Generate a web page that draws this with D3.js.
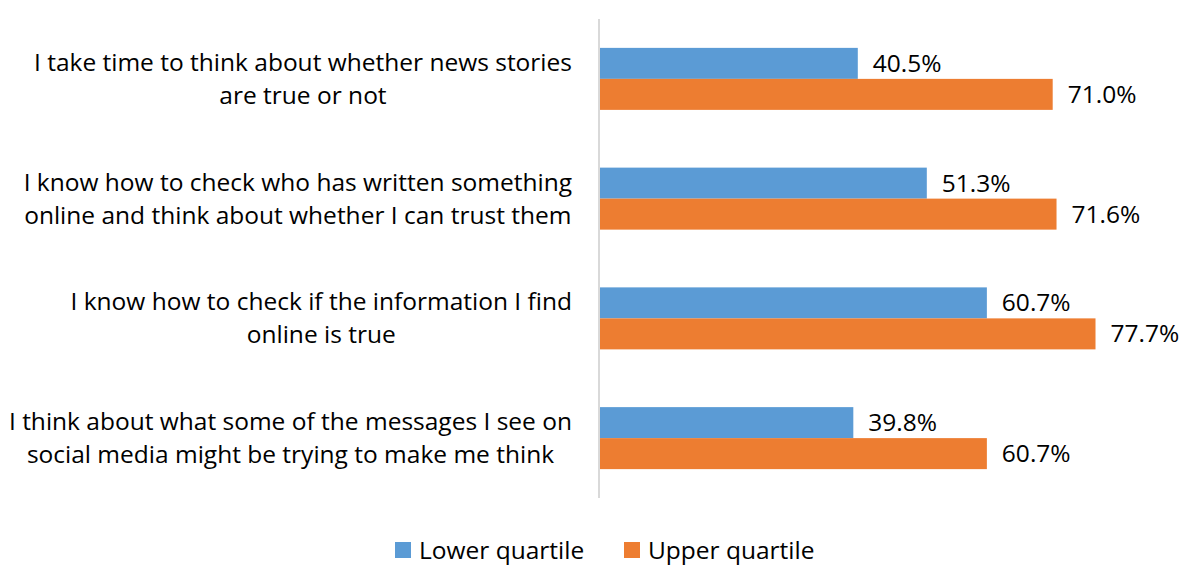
<!DOCTYPE html>
<html><head><meta charset="utf-8">
<script src="https://cdn.jsdelivr.net/npm/d3@7"></script>
<style>body{margin:0;background:#fff;} svg{display:block;}</style>
</head><body>
<svg id="chart" width="1184" height="565"></svg>
<script>
const categories = [
  "I take time to think about whether news stories\nare true or not",
  "I know how to check who has written something\nonline and think about whether I can trust them",
  "I know how to check if the information I find\nonline is true",
  "I think about what some of the messages I see on\nsocial media might be trying to make me think"
];
const seriesNames = ["Lower quartile", "Upper quartile"];
const lowerQuartile = [40.5, 51.3, 60.7, 39.8];
const upperQuartile = [71.0, 71.6, 77.7, 60.7];
const colors = ["#5B9BD5", "#ED7D31"];

const font = "'Open Sans', sans-serif";
const fs = 24.5;
const svg = d3.select("#chart");

const x = d3.scaleLinear().domain([0, 100]).range([599, 1238]);
const y0 = d3.scaleBand().domain(categories).range([19, 498]).padding(0);
const barH = 31;
const labelRight = 572;

const rows = categories.map((c, i) => ({cat: c, vals: [lowerQuartile[i], upperQuartile[i]]}));

const g = svg.append("g");
rows.forEach(r => {
  const cy = y0(r.cat) + y0.bandwidth() / 2;
  const y1 = d3.scaleBand().domain(seriesNames).range([cy - barH, cy + barH]).padding(0);
  seriesNames.forEach((s, j) => {
    g.append("rect")
      .attr("x", x(0)).attr("y", y1(s))
      .attr("width", x(r.vals[j]) - x(0)).attr("height", y1.bandwidth())
      .attr("fill", colors[j]);
    g.append("text")
      .attr("x", x(r.vals[j]) + 15)
      .attr("y", y1(s) + y1.bandwidth() / 2)
      .attr("dy", "0.35em")
      .attr("font-family", font).attr("font-size", fs).attr("fill", "#000")
      .text(r.vals[j].toFixed(1) + "%");
  });
  const lines = r.cat.split("\n");
  const lh = 33;
  const t = g.append("text")
    .attr("text-anchor", "middle")
    .attr("font-family", font).attr("font-size", fs).attr("fill", "#000");
  const spans = lines.map((ln, k) => t.append("tspan")
      .attr("y", cy + (k - (lines.length - 1) / 2) * lh)
      .attr("dy", "0.35em")
      .text(ln));
  const maxW = d3.max(spans, sp => sp.node().getComputedTextLength());
  spans.forEach(sp => sp.attr("x", labelRight - maxW / 2));
});

// axis line
svg.append("line")
  .attr("x1", x(0)).attr("x2", x(0))
  .attr("y1", y0.range()[0]).attr("y2", y0.range()[1])
  .attr("stroke", "#D9D9D9").attr("stroke-width", 2);

// legend
const legend = svg.append("g");
const legX = [395, 624];
seriesNames.forEach((s, j) => {
  legend.append("rect").attr("x", legX[j]).attr("y", 542).attr("width", 16).attr("height", 16).attr("fill", colors[j]);
  legend.append("text").attr("x", legX[j] + 24).attr("y", 550).attr("dy", "0.35em")
    .attr("font-family", font).attr("font-size", fs).attr("fill", "#000").text(s);
});
</script>
</body></html>
